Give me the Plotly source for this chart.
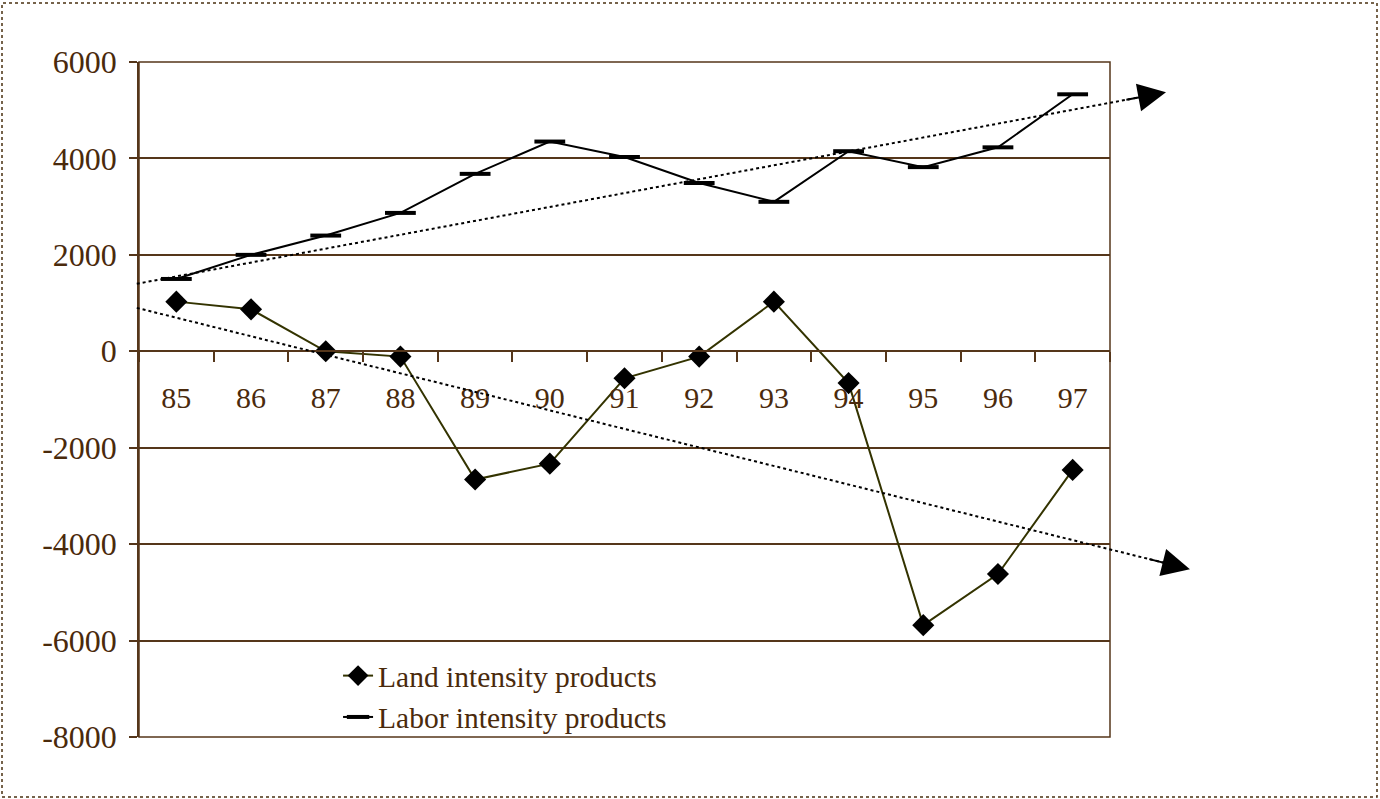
import plotly.graph_objects as go

years = ["85", "86", "87", "88", "89", "90", "91", "92", "93", "94", "95", "96", "97"]
land = [1030, 870, 0, -110, -2660, -2330, -560, -110, 1030, -660, -5680, -4620, -2460]
labor = [1500, 2000, 2400, 2870, 3680, 4350, 4030, 3490, 3100, 4150, 3820, 4230, 5330]

y_ticks = [6000, 4000, 2000, 0, -2000, -4000, -6000, -8000]
y_tick_text = ["6000", "4000", "2000", "0", "-2000", "-4000", "-6000", "-8000"]

# hand-drawn trend arrows (category position, value)
trend_up_start = (-0.53, 1400)
trend_up_end = (13.25, 5370)
trend_down_start = (-0.53, 900)
trend_down_end = (13.57, -4520)

X_RANGE = [-0.5, 12.5]
Y_RANGE = [-8000, 6000]
BROWN = "#55361a"
TEXT = "#4a2a0c"
FONT = "Liberation Serif"

W, H = 1380, 799
ML, MR, MT, MB = 139, 270, 62, 62
pw = W - ML - MR
ph = H - MT - MB


def px(v):
    return (v - X_RANGE[0]) / (X_RANGE[1] - X_RANGE[0])


def py(v):
    return (v - Y_RANGE[0]) / (Y_RANGE[1] - Y_RANGE[0])


fig = go.Figure()
fig.add_trace(go.Scatter(
    x=years, y=land, name="Land intensity products", mode="lines+markers",
    line=dict(color="#333300", width=2),
    marker=dict(symbol="diamond", size=17, color="black", line=dict(width=0)),
))
fig.add_trace(go.Scatter(
    x=years, y=labor, name="Labor intensity products", mode="lines+markers",
    line=dict(color="black", width=2),
    marker=dict(symbol="line-ew", size=22, color="black", line=dict(width=4, color="black")),
))

shapes = []
annotations = []
for (s, e) in [(trend_up_start, trend_up_end), (trend_down_start, trend_down_end)]:
    x0, y0, x1, y1 = px(s[0]), py(s[1]), px(e[0]), py(e[1])
    fx = 0.975
    xm = x0 + (x1 - x0) * fx
    ym = y0 + (y1 - y0) * fx
    shapes.append(dict(type="line", xref="paper", yref="paper", x0=x0, y0=y0, x1=xm, y1=ym,
                       line=dict(color="black", width=2, dash="dot")))
    f = 0.96
    ax = -(x1 - x0) * (1 - f) * pw
    ay = (y1 - y0) * (1 - f) * ph
    annotations.append(dict(xref="paper", yref="paper", axref="pixel", ayref="pixel",
                            x=x1, y=y1, ax=ax, ay=ay, text="", showarrow=True,
                            arrowhead=2, arrowsize=2.8, arrowwidth=2, arrowcolor="black"))

# plot frame
shapes.append(dict(type="rect", xref="paper", yref="paper", x0=0, y0=0, x1=1, y1=1,
                   line=dict(color=BROWN, width=1.5), layer="below"))
# outer dotted border
shapes.append(dict(type="rect", xref="paper", yref="paper",
                   x0=(2 - ML) / pw, x1=(1377 - ML) / pw,
                   y0=(H - MB - 797) / ph, y1=(H - MB - 3) / ph,
                   line=dict(color="#4a3010", width=1.5, dash="dot")))

fig.update_layout(
    width=W, height=H,
    margin=dict(l=ML, r=MR, t=MT, b=MB),
    paper_bgcolor="white", plot_bgcolor="white",
    font=dict(family=FONT, size=30, color=TEXT),
    showlegend=True,
    legend=dict(x=0.205, y=0.129, xanchor="left", yanchor="top",
                bgcolor="rgba(0,0,0,0)", font=dict(family=FONT, size=29.5, color=TEXT),
                tracegroupgap=0),
    shapes=shapes,
    annotations=annotations,
    xaxis=dict(type="category", range=X_RANGE, anchor="free", position=py(0),
               showline=True, linecolor=BROWN, linewidth=1.5,
               ticks="outside", ticklen=10, tickcolor=BROWN, tickwidth=1.5,
               tickson="boundaries", showgrid=False, ticklabelstandoff=20,
               tickfont=dict(family=FONT, size=30, color=TEXT)),
    yaxis=dict(range=Y_RANGE, tickvals=y_ticks, ticktext=y_tick_text,
               showgrid=True, gridcolor=BROWN, gridwidth=1.5, zeroline=False,
               showline=True, linecolor=BROWN, linewidth=1.5,
               ticks="outside", ticklen=8, tickcolor=BROWN, tickwidth=1.5,
               ticklabelstandoff=6,
               tickfont=dict(family=FONT, size=32, color=TEXT)),
)

fig.write_html("out.html", config={"displayModeBar": False},
               post_script="document.body.style.margin='0';")
